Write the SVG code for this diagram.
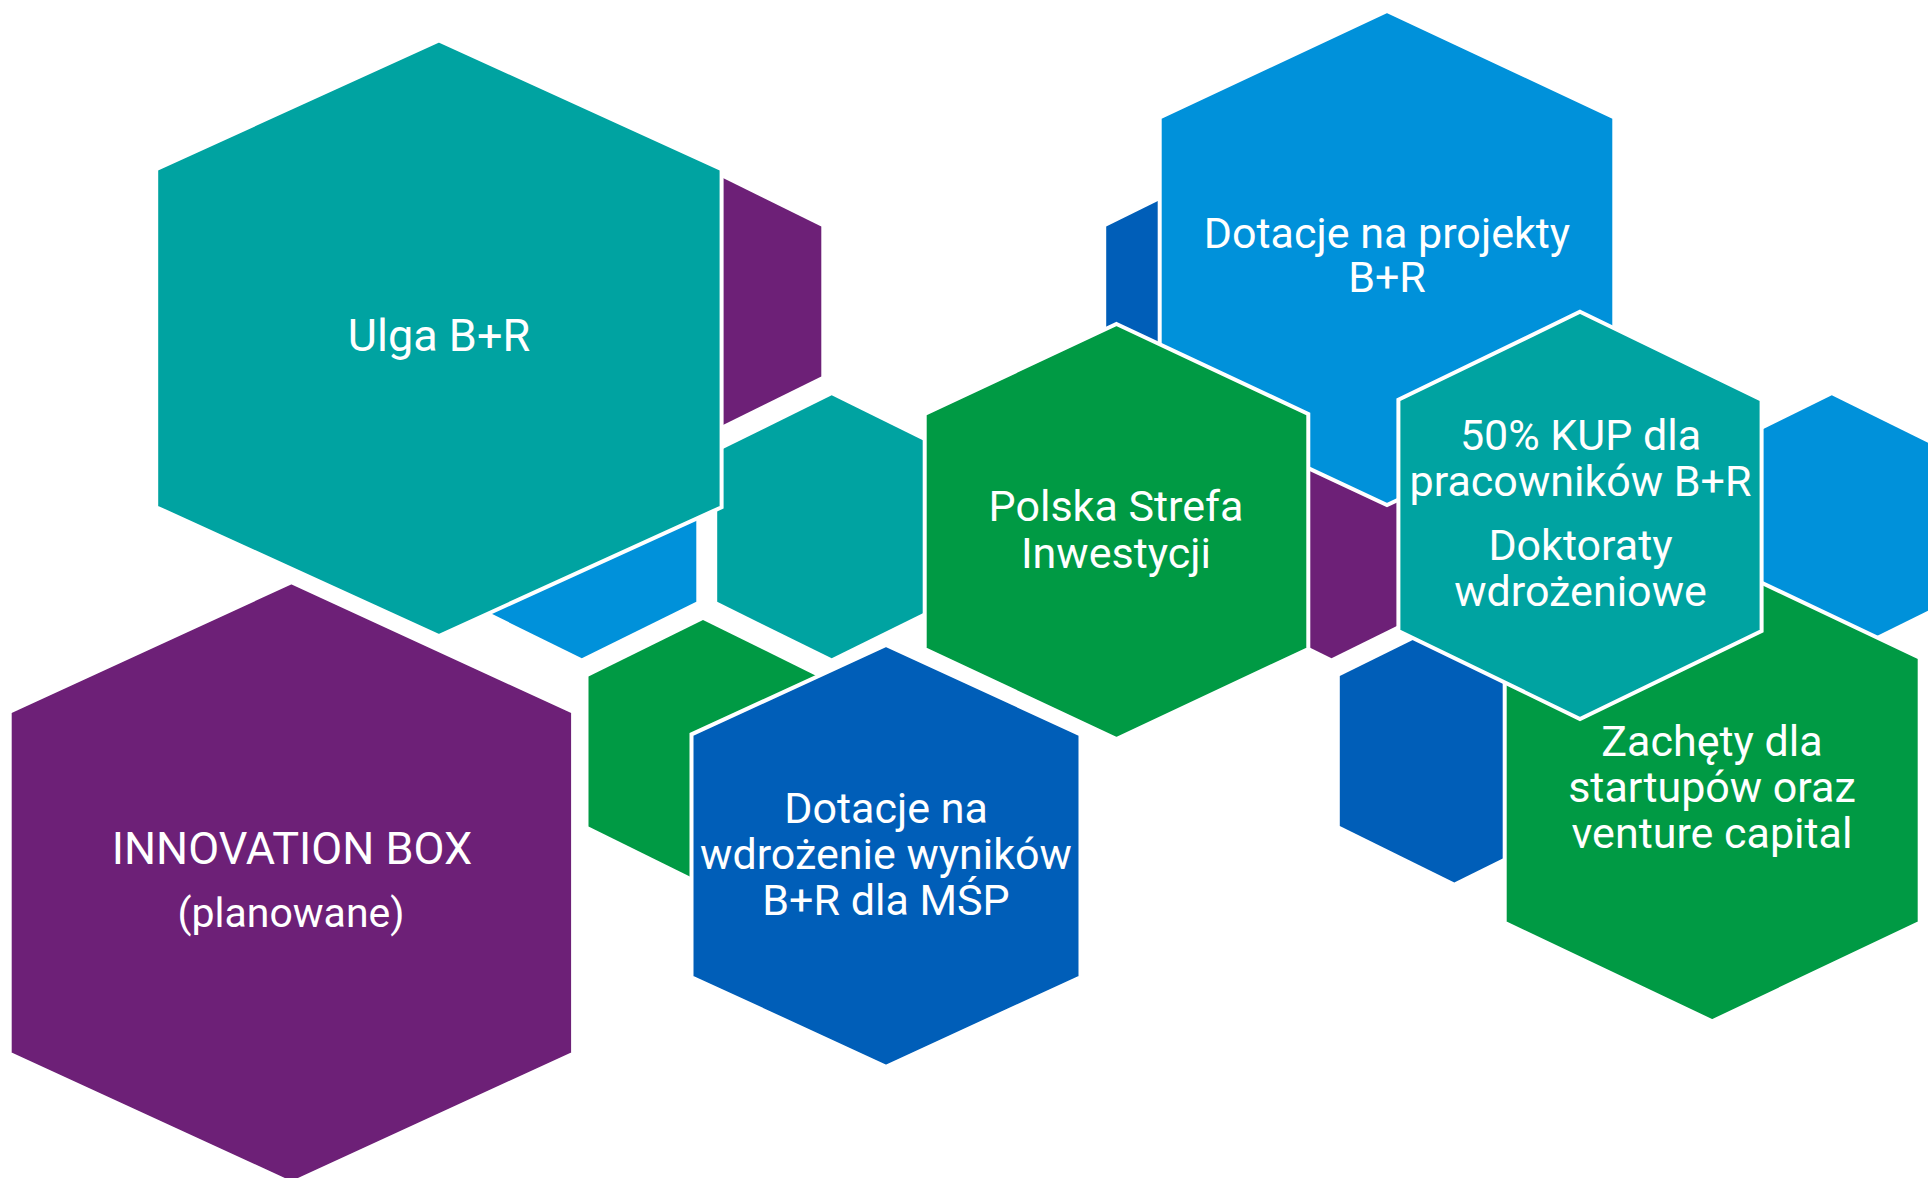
<svg xmlns="http://www.w3.org/2000/svg" width="1928" height="1178" viewBox="0 0 1928 1178">
<style>
  .teal{fill:#00A3A1}
  .purple{fill:#6D2077}
  .green{fill:#009A44}
  .lblue{fill:#0091DA}
  .dblue{fill:#005EB8}
  .big{stroke:#FFFFFF;stroke-width:4;stroke-linejoin:miter}
  .lbl{font-family:Roboto,"Liberation Sans",Arial,sans-serif;fill:#FFFFFF;text-anchor:middle;font-size:43px}
  .lg{font-size:45px}
</style>
<rect x="0" y="0" width="1928" height="1178" fill="#FFFFFF"/>
<g id="background-hexes">
  <polygon id="hex-purple-a" class="purple" points="706.8,170 821.3,226.5 821.3,376.5 706.8,433 592.3,376.5 592.3,226.5"/>
  <polygon id="hex-dblue-a" class="dblue" points="1220.7,170 1335.2,226.5 1335.2,376.5 1220.7,433 1106.2,376.5 1106.2,226.5"/>
  <polygon id="hex-lblue-b" class="lblue" points="581.8,395.3 696.3,451.8 696.3,601.8 581.8,658.3 467.3,601.8 467.3,451.8"/>
  <polygon id="hex-teal-b" class="teal" points="831.7,395.3 946.2,451.8 946.2,601.8 831.7,658.3 717.2,601.8 717.2,451.8"/>
  <polygon id="hex-purple-b" class="purple" points="1331.5,395.3 1446,451.8 1446,601.8 1331.5,658.3 1217,601.8 1217,451.8"/>
  <polygon id="hex-lblue-r" class="lblue" points="1831.8,395.3 1946.3,451.8 1946.3,601.8 1831.8,658.3 1717.3,601.8 1717.3,451.8"/>
  <polygon id="hex-green-c" class="green" points="703,619.9 817.5,676.4 817.5,826.4 703,882.9 588.5,826.4 588.5,676.4"/>
  <polygon id="hex-dblue-c" class="dblue" points="1454.3,619.4 1568.8,675.9 1568.8,825.9 1454.3,882.4 1339.8,825.9 1339.8,675.9"/>
</g>
<g id="node-ulga">
  <polygon class="teal big" points="438.9,40.4 721.6,169.2 721.6,507.2 438.9,636 156.2,507.2 156.2,169.2"/>
  <text class="lbl lg" x="439" y="351.4">Ulga B+R</text>
</g>
<g id="node-innovation-box">
  <polygon class="purple big" points="291.4,582.2 573.1,711.7 573.1,1053.7 291.4,1183.2 9.7,1053.7 9.7,711.7"/>
  <text class="lbl lg" x="292" y="863.5">INNOVATION BOX</text>
  <text class="lbl" x="291" y="927" style="font-size:41px">(planowane)</text>
</g>
<g id="node-dotacje-projekty">
  <polygon class="lblue big" points="1387,10.9 1614.3,117.5 1614.3,398.5 1387,505.1 1159.7,398.5 1159.7,117.5"/>
  <text class="lbl" x="1387" y="248">Dotacje na projekty</text>
  <text class="lbl" x="1387" y="292">B+R</text>
</g>
<g id="node-polska-strefa">
  <polygon class="green big" points="1116.5,324 1308.3,414 1308.3,649 1116.5,739 924.7,649 924.7,414"/>
  <text class="lbl" x="1116" y="520.8">Polska Strefa</text>
  <text class="lbl" x="1116" y="567.6">Inwestycji</text>
</g>
<g id="node-dotacje-msp">
  <polygon class="dblue big" points="886,644.9 1080.5,734.4 1080.5,977.2 886,1066.7 691.5,977.2 691.5,734.4"/>
  <text class="lbl" x="886" y="822.9">Dotacje na</text>
  <text class="lbl" x="886" y="868.8">wdrożenie wyników</text>
  <text class="lbl" x="886" y="914.7">B+R dla MŚP</text>
</g>
<g id="node-zachety">
  <polygon class="green big" points="1712.2,559.3 1919.7,657.8 1919.7,922.8 1712.2,1021.3 1504.7,922.8 1504.7,657.8"/>
  <text class="lbl" x="1712" y="756.2">Zachęty dla</text>
  <text class="lbl" x="1712" y="802.1">startupów oraz</text>
  <text class="lbl" x="1712" y="848">venture capital</text>
</g>
<g id="node-kup-doktoraty">
  <polygon class="teal big" points="1580,311.8 1761.6,399.8 1761.6,631 1580,719 1398.4,631 1398.4,399.8"/>
  <text class="lbl" x="1580.5" y="450">50% KUP dla</text>
  <text class="lbl" x="1580.5" y="495.9">pracowników B+R</text>
  <text class="lbl" x="1580.5" y="560.1">Doktoraty</text>
  <text class="lbl" x="1580.5" y="606">wdrożeniowe</text>
</g>
</svg>
